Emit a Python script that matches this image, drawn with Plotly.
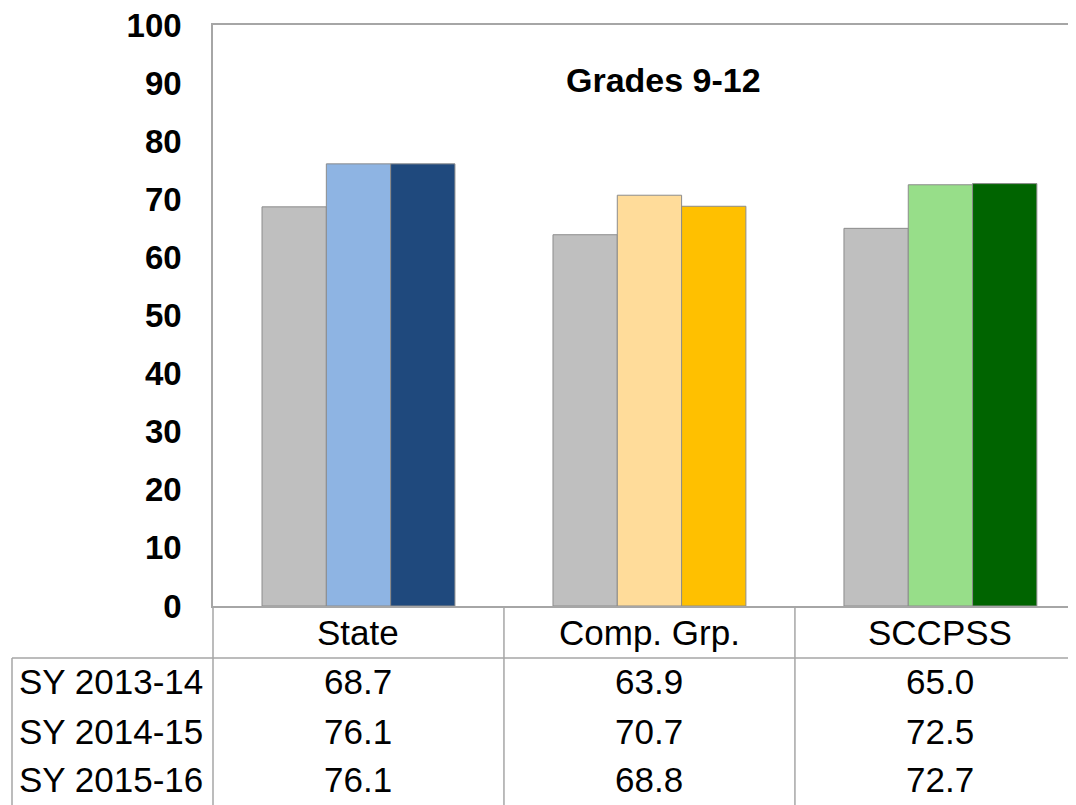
import plotly.graph_objects as go

categories = ["State", "Comp. Grp.", "SCCPSS"]
years = ["SY 2013-14", "SY 2014-15", "SY 2015-16"]
values_2013_14 = [68.7, 63.9, 65.0]
values_2014_15 = [76.1, 70.7, 72.5]
values_2015_16 = [76.1, 68.8, 72.7]
colors_2013_14 = ["#BFBFBF", "#BFBFBF", "#BFBFBF"]
colors_2014_15 = ["#8EB4E3", "#FFDC9A", "#97DE89"]
colors_2015_16 = ["#1F497D", "#FFC000", "#006400"]
y_ticks = [0, 10, 20, 30, 40, 50, 60, 70, 80, 90, 100]
title_text = "Grades 9-12"

series = [
    (years[0], values_2013_14, colors_2013_14),
    (years[1], values_2014_15, colors_2014_15),
    (years[2], values_2015_16, colors_2015_16),
]

FONT = "Liberation Sans, Arial, sans-serif"
LINE = "#A6A6A6"

fig = go.Figure()
xs = list(range(len(categories)))
for name, vals, cols in series:
    fig.add_trace(go.Bar(
        x=xs, y=vals, name=name,
        marker=dict(color=cols, line=dict(color="#8C8C8C", width=1)),
        showlegend=False, hoverinfo="y",
    ))

# page body has an 8px margin; compensate so the chart lands where intended
OFF = 8
W, H = 1076 - OFF, 805 - OFF
L, R, T, B = 213 - OFF, 0, 25 - OFF, 199
plot_h = H - T - B
plot_w = W - L - R

def py(Y):
    # Y is a target pixel row in the 1076x805 window
    return (805 - B - Y) / plot_h

def px(X):
    return (X - 213) / plot_w

fig.update_layout(
    width=W, height=H,
    margin=dict(l=L, r=R, t=T, b=B, pad=0),
    paper_bgcolor="white", plot_bgcolor="white",
    barmode="group", bargap=0.337, bargroupgap=0,
    font=dict(family=FONT, color="black"),
    xaxis=dict(range=[-0.5, 2.466], showticklabels=False, ticks="",
               showgrid=False, zeroline=False, showline=True, mirror=True,
               linecolor=LINE, linewidth=1.5, fixedrange=True),
    yaxis=dict(range=[0, 100], tickvals=y_ticks, ticks="", showgrid=False,
               zeroline=False, showline=True, linecolor=LINE, linewidth=1.5,
               tickfont=dict(family=FONT, size=33, color="black", weight="bold"),
               ticklabelstandoff=23, ticklabeloverflow="allow", fixedrange=True),
)

fig.add_annotation(text="<b>" + title_text + "</b>", x=px(663), y=py(80),
                   xref="paper", yref="paper", xanchor="center", yanchor="middle",
                   showarrow=False, font=dict(family=FONT, size=34, color="black"))

# table lines
shapes = []
bottom = py(830)
header_bottom = py(658)
for xb in [0.5, 1.5]:
    shapes.append(dict(type="line", xref="x", yref="paper", x0=xb, x1=xb,
                       y0=0, y1=bottom, line=dict(color=LINE, width=1.5)))
shapes.append(dict(type="line", xref="paper", yref="paper", x0=0, x1=0,
                   y0=0, y1=bottom, line=dict(color=LINE, width=1.5)))
shapes.append(dict(type="line", xref="paper", yref="paper", x0=px(12), x1=1.0,
                   y0=header_bottom, y1=header_bottom, line=dict(color=LINE, width=1.5)))
shapes.append(dict(type="line", xref="paper", yref="paper", x0=px(12), x1=px(12),
                   y0=header_bottom, y1=bottom, line=dict(color=LINE, width=1.5)))
fig.update_layout(shapes=shapes)

TS = 35
# header categories
for i, c in enumerate(categories):
    fig.add_annotation(text=c, x=i, y=py(632), xref="x", yref="paper",
                       xanchor="center", yanchor="middle", showarrow=False,
                       font=dict(family=FONT, size=TS, color="black"))

row_y = [681, 731, 779]
for r, (name, vals, cols) in enumerate(series):
    fig.add_annotation(text=name, x=px(17), y=py(row_y[r]), xref="paper", yref="paper",
                       xanchor="left", yanchor="middle", showarrow=False,
                       font=dict(family=FONT, size=TS, color="black"))
    for i, v in enumerate(vals):
        fig.add_annotation(text=f"{v:.1f}", x=i, y=py(row_y[r]), xref="x", yref="paper",
                           xanchor="center", yanchor="middle", showarrow=False,
                           font=dict(family=FONT, size=TS, color="black"))

fig.write_html("out.html")
